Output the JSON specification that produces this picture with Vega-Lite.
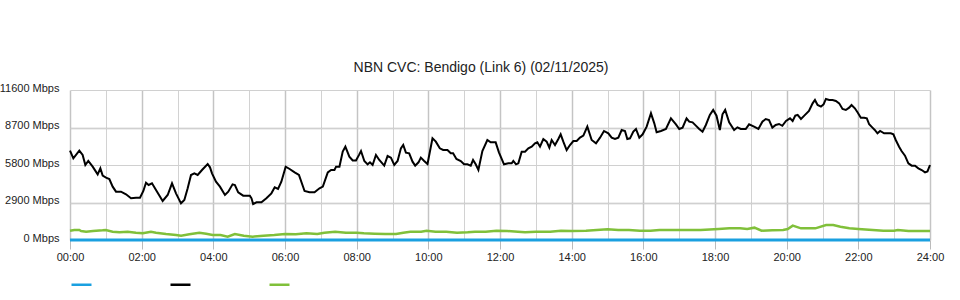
{
  "$schema": "https://vega.github.io/schema/vega-lite/v6.json",
  "autosize": {"type": "none"},
  "padding": {"left": 70, "top": 90, "right": 30, "bottom": 60},
  "width": 860,
  "height": 150,
  "background": "white",
  "config": {
    "view": {"stroke": null},
    "font": "Liberation Sans"
  },
  "title": {
    "text": "NBN CVC: Bendigo (Link 6) (02/11/2025)",
    "fontSize": 14,
    "fontWeight": "normal",
    "color": "#222",
    "anchor": "middle",
    "dx": -19,
    "offset": 7
  },
  "datasets": {
    "blue": [
      {"h": 0, "v": 0}, {"h": 2, "v": 0}, {"h": 4, "v": 0}, {"h": 6, "v": 0}, {"h": 8, "v": 0}, {"h": 10, "v": 0}, {"h": 12, "v": 0},
      {"h": 14, "v": 0}, {"h": 16, "v": 0}, {"h": 18, "v": 0}, {"h": 20, "v": 0}, {"h": 22, "v": 0}, {"h": 24, "v": 0}
    ],
    "black": [
      {"h": 0, "v": 6909}, {"h": 0.093, "v": 6316}, {"h": 0.26, "v": 6909}, {"h": 0.353, "v": 6574}, {"h": 0.428, "v": 5801},
      {"h": 0.51, "v": 6110}, {"h": 0.633, "v": 5671}, {"h": 0.772, "v": 5079}, {"h": 0.847, "v": 5543}, {"h": 0.912, "v": 4976},
      {"h": 1.005, "v": 4821}, {"h": 1.098, "v": 4718}, {"h": 1.191, "v": 4125}, {"h": 1.284, "v": 3738}, {"h": 1.423, "v": 3738},
      {"h": 1.563, "v": 3532}, {"h": 1.702, "v": 3223}, {"h": 1.842, "v": 3274}, {"h": 1.953, "v": 3274}, {"h": 2.047, "v": 3790},
      {"h": 2.121, "v": 4434}, {"h": 2.195, "v": 4254}, {"h": 2.288, "v": 4382}, {"h": 2.4, "v": 3867}, {"h": 2.586, "v": 3016},
      {"h": 2.726, "v": 3480}, {"h": 2.847, "v": 4382}, {"h": 2.958, "v": 3609}, {"h": 3.098, "v": 2836}, {"h": 3.191, "v": 3093},
      {"h": 3.284, "v": 3996}, {"h": 3.377, "v": 5027}, {"h": 3.47, "v": 5156}, {"h": 3.563, "v": 5027}, {"h": 3.684, "v": 5414},
      {"h": 3.842, "v": 5878}, {"h": 3.907, "v": 5620}, {"h": 3.963, "v": 5156}, {"h": 4.074, "v": 4511}, {"h": 4.185, "v": 4125},
      {"h": 4.324, "v": 3480}, {"h": 4.417, "v": 3738}, {"h": 4.537, "v": 4305}, {"h": 4.602, "v": 4254}, {"h": 4.694, "v": 3687},
      {"h": 4.833, "v": 3429}, {"h": 5.019, "v": 3429}, {"h": 5.065, "v": 3223}, {"h": 5.111, "v": 2784}, {"h": 5.204, "v": 2913},
      {"h": 5.343, "v": 2913}, {"h": 5.481, "v": 3223}, {"h": 5.62, "v": 3609}, {"h": 5.713, "v": 4073}, {"h": 5.806, "v": 3944},
      {"h": 5.898, "v": 4511}, {"h": 6.019, "v": 5671}, {"h": 6.13, "v": 5491}, {"h": 6.269, "v": 5233}, {"h": 6.389, "v": 5027},
      {"h": 6.546, "v": 3790}, {"h": 6.685, "v": 3687}, {"h": 6.824, "v": 3687}, {"h": 6.963, "v": 3996}, {"h": 7.056, "v": 4125},
      {"h": 7.194, "v": 5233}, {"h": 7.287, "v": 5414}, {"h": 7.38, "v": 5414}, {"h": 7.426, "v": 5671}, {"h": 7.519, "v": 5671},
      {"h": 7.611, "v": 6832}, {"h": 7.685, "v": 7218}, {"h": 7.796, "v": 6445}, {"h": 7.889, "v": 6150}, {"h": 7.981, "v": 6150},
      {"h": 8.07, "v": 6600}, {"h": 8.121, "v": 6883}, {"h": 8.214, "v": 6110}, {"h": 8.306, "v": 5852}, {"h": 8.371, "v": 6007},
      {"h": 8.445, "v": 5801}, {"h": 8.538, "v": 6574}, {"h": 8.631, "v": 6187}, {"h": 8.77, "v": 5749}, {"h": 8.863, "v": 6497},
      {"h": 8.956, "v": 6368}, {"h": 9.049, "v": 5801}, {"h": 9.142, "v": 6110}, {"h": 9.234, "v": 7089}, {"h": 9.299, "v": 7347},
      {"h": 9.374, "v": 6754}, {"h": 9.466, "v": 6703}, {"h": 9.559, "v": 6058}, {"h": 9.633, "v": 5749}, {"h": 9.726, "v": 6007},
      {"h": 9.791, "v": 6368}, {"h": 9.884, "v": 6110}, {"h": 9.977, "v": 5878}, {"h": 10.116, "v": 7863}, {"h": 10.209, "v": 7605},
      {"h": 10.32, "v": 7089}, {"h": 10.413, "v": 6960}, {"h": 10.534, "v": 6960}, {"h": 10.626, "v": 6703}, {"h": 10.691, "v": 6703},
      {"h": 10.784, "v": 6265}, {"h": 10.905, "v": 6110}, {"h": 10.998, "v": 5852}, {"h": 11.09, "v": 5852}, {"h": 11.183, "v": 5749},
      {"h": 11.248, "v": 6187}, {"h": 11.322, "v": 5852}, {"h": 11.397, "v": 5414}, {"h": 11.508, "v": 6883}, {"h": 11.647, "v": 7734},
      {"h": 11.74, "v": 7553}, {"h": 11.879, "v": 7553}, {"h": 11.97, "v": 6780}, {"h": 12.112, "v": 5852}, {"h": 12.233, "v": 5930},
      {"h": 12.326, "v": 5930}, {"h": 12.372, "v": 6110}, {"h": 12.447, "v": 5852}, {"h": 12.512, "v": 5930}, {"h": 12.605, "v": 6832},
      {"h": 12.698, "v": 6832}, {"h": 12.791, "v": 7089}, {"h": 12.884, "v": 7218}, {"h": 12.977, "v": 7476}, {"h": 13.042, "v": 7553},
      {"h": 13.116, "v": 7218}, {"h": 13.209, "v": 7811}, {"h": 13.302, "v": 7605}, {"h": 13.377, "v": 7141}, {"h": 13.442, "v": 7734},
      {"h": 13.535, "v": 7347}, {"h": 13.628, "v": 7811}, {"h": 13.693, "v": 8172}, {"h": 13.767, "v": 7605}, {"h": 13.86, "v": 6960},
      {"h": 13.953, "v": 7347}, {"h": 14.047, "v": 7656}, {"h": 14.14, "v": 7656}, {"h": 14.233, "v": 7914}, {"h": 14.326, "v": 8069},
      {"h": 14.437, "v": 8765}, {"h": 14.558, "v": 7734}, {"h": 14.679, "v": 7476}, {"h": 14.791, "v": 7914}, {"h": 14.902, "v": 8430},
      {"h": 15.023, "v": 8250}, {"h": 15.116, "v": 7914}, {"h": 15.209, "v": 7811}, {"h": 15.302, "v": 7914}, {"h": 15.395, "v": 8507},
      {"h": 15.488, "v": 8430}, {"h": 15.553, "v": 7811}, {"h": 15.628, "v": 7863}, {"h": 15.721, "v": 8378}, {"h": 15.795, "v": 8585},
      {"h": 15.888, "v": 7914}, {"h": 15.981, "v": 8172}, {"h": 16.093, "v": 8765}, {"h": 16.213, "v": 9797}, {"h": 16.306, "v": 9023},
      {"h": 16.371, "v": 8327}, {"h": 16.492, "v": 8430}, {"h": 16.631, "v": 8585}, {"h": 16.77, "v": 9410}, {"h": 16.91, "v": 8946},
      {"h": 17.002, "v": 8585}, {"h": 17.095, "v": 8688}, {"h": 17.206, "v": 9410}, {"h": 17.281, "v": 9152}, {"h": 17.374, "v": 9100},
      {"h": 17.466, "v": 8842}, {"h": 17.559, "v": 8585}, {"h": 17.652, "v": 8378}, {"h": 17.745, "v": 8894}, {"h": 17.856, "v": 9668},
      {"h": 17.949, "v": 10055}, {"h": 18.042, "v": 9616}, {"h": 18.135, "v": 8507}, {"h": 18.209, "v": 9719}, {"h": 18.284, "v": 10055},
      {"h": 18.395, "v": 9100}, {"h": 18.534, "v": 8507}, {"h": 18.626, "v": 8714}, {"h": 18.719, "v": 8585}, {"h": 18.858, "v": 8585},
      {"h": 18.951, "v": 8946}, {"h": 19.09, "v": 8765}, {"h": 19.211, "v": 8585}, {"h": 19.322, "v": 9152}, {"h": 19.415, "v": 9358},
      {"h": 19.508, "v": 9281}, {"h": 19.601, "v": 8688}, {"h": 19.694, "v": 8894}, {"h": 19.787, "v": 8971}, {"h": 19.879, "v": 8830},
      {"h": 19.981, "v": 9204}, {"h": 20.093, "v": 9410}, {"h": 20.167, "v": 9204}, {"h": 20.241, "v": 9616}, {"h": 20.306, "v": 9668},
      {"h": 20.399, "v": 9358}, {"h": 20.492, "v": 9616}, {"h": 20.622, "v": 9977}, {"h": 20.724, "v": 10570}, {"h": 20.789, "v": 10828},
      {"h": 20.863, "v": 10442}, {"h": 20.956, "v": 10313}, {"h": 21.03, "v": 10493}, {"h": 21.095, "v": 10906}, {"h": 21.188, "v": 10828},
      {"h": 21.281, "v": 10828}, {"h": 21.374, "v": 10750}, {"h": 21.466, "v": 10570}, {"h": 21.559, "v": 10132}, {"h": 21.651, "v": 10055},
      {"h": 21.744, "v": 10235}, {"h": 21.81, "v": 10442}, {"h": 21.903, "v": 10184}, {"h": 21.977, "v": 9874}, {"h": 22.07, "v": 9461},
      {"h": 22.162, "v": 9461}, {"h": 22.237, "v": 9410}, {"h": 22.302, "v": 8946}, {"h": 22.394, "v": 8688}, {"h": 22.459, "v": 8507},
      {"h": 22.534, "v": 8250}, {"h": 22.608, "v": 8430}, {"h": 22.719, "v": 8250}, {"h": 22.905, "v": 8250}, {"h": 22.979, "v": 8172},
      {"h": 23.044, "v": 7734}, {"h": 23.137, "v": 7218}, {"h": 23.206, "v": 6883}, {"h": 23.302, "v": 6523}, {"h": 23.396, "v": 5930},
      {"h": 23.489, "v": 5749}, {"h": 23.582, "v": 5749}, {"h": 23.675, "v": 5543}, {"h": 23.768, "v": 5414}, {"h": 23.861, "v": 5233},
      {"h": 23.93, "v": 5300}, {"h": 24.0, "v": 5800}
    ],
    "green": [
      {"h": 0, "v": 722}, {"h": 0.12, "v": 773}, {"h": 0.26, "v": 773}, {"h": 0.31, "v": 696}, {"h": 0.45, "v": 645},
      {"h": 0.64, "v": 696}, {"h": 0.91, "v": 747}, {"h": 1.0, "v": 773}, {"h": 1.19, "v": 645}, {"h": 1.38, "v": 593},
      {"h": 1.61, "v": 645}, {"h": 1.84, "v": 567}, {"h": 2.03, "v": 516}, {"h": 2.26, "v": 645}, {"h": 2.4, "v": 567},
      {"h": 2.68, "v": 464}, {"h": 2.96, "v": 387}, {"h": 3.1, "v": 335}, {"h": 3.33, "v": 438}, {"h": 3.61, "v": 567},
      {"h": 3.8, "v": 490}, {"h": 3.98, "v": 387}, {"h": 4.2, "v": 387}, {"h": 4.4, "v": 258}, {"h": 4.6, "v": 464},
      {"h": 4.85, "v": 335}, {"h": 5.1, "v": 258}, {"h": 5.4, "v": 335}, {"h": 5.7, "v": 387}, {"h": 6.0, "v": 464},
      {"h": 6.3, "v": 438}, {"h": 6.6, "v": 516}, {"h": 6.9, "v": 464}, {"h": 7.1, "v": 567}, {"h": 7.4, "v": 645},
      {"h": 7.7, "v": 567}, {"h": 8.0, "v": 567}, {"h": 8.2, "v": 516}, {"h": 8.5, "v": 490}, {"h": 8.8, "v": 464},
      {"h": 9.1, "v": 464}, {"h": 9.3, "v": 567}, {"h": 9.5, "v": 645}, {"h": 9.8, "v": 645}, {"h": 9.95, "v": 722},
      {"h": 10.2, "v": 645}, {"h": 10.5, "v": 645}, {"h": 10.8, "v": 567}, {"h": 11.1, "v": 593}, {"h": 11.3, "v": 645},
      {"h": 11.6, "v": 645}, {"h": 11.9, "v": 722}, {"h": 12.2, "v": 696}, {"h": 12.5, "v": 645}, {"h": 12.7, "v": 593},
      {"h": 13.0, "v": 645}, {"h": 13.4, "v": 645}, {"h": 13.7, "v": 722}, {"h": 14.0, "v": 696}, {"h": 14.4, "v": 722},
      {"h": 14.7, "v": 773}, {"h": 15.0, "v": 825}, {"h": 15.3, "v": 773}, {"h": 15.6, "v": 773}, {"h": 15.9, "v": 722},
      {"h": 16.2, "v": 722}, {"h": 16.45, "v": 773}, {"h": 16.8, "v": 773}, {"h": 17.2, "v": 773}, {"h": 17.6, "v": 773},
      {"h": 18.1, "v": 850}, {"h": 18.4, "v": 902}, {"h": 18.7, "v": 902}, {"h": 18.9, "v": 850}, {"h": 19.1, "v": 954},
      {"h": 19.3, "v": 722}, {"h": 19.6, "v": 747}, {"h": 19.9, "v": 773}, {"h": 20.03, "v": 850}, {"h": 20.17, "v": 1108},
      {"h": 20.4, "v": 902}, {"h": 20.8, "v": 902}, {"h": 21.1, "v": 1160}, {"h": 21.3, "v": 1160}, {"h": 21.5, "v": 1031},
      {"h": 21.75, "v": 902}, {"h": 22.0, "v": 850}, {"h": 22.4, "v": 773}, {"h": 22.7, "v": 722}, {"h": 23.0, "v": 722},
      {"h": 23.1, "v": 773}, {"h": 23.4, "v": 696}, {"h": 23.7, "v": 696}, {"h": 24.0, "v": 696}
    ]
  },
  "resolve": {"axis": {"x": "independent", "y": "independent"}},
  "layer": [
    {
      "data": {"name": "blue"},
      "transform": [{"calculate": "'Series 1'", "as": "series"}],
      "mark": {"type": "line", "strokeWidth": 3},
      "encoding": {
        "x": {"field": "h", "type": "quantitative", "scale": {"domain": [0, 24], "nice": false, "zero": false},
          "axis": {"orient": "bottom", "values": [1, 3, 5, 7, 9, 11, 13, 15, 17, 19, 21, 23], "labels": false, "ticks": false, "domain": false, "title": null, "grid": true, "gridColor": "#d2d2d2", "gridWidth": 1}},
        "y": {"field": "v", "type": "quantitative", "scale": {"domain": [0, 11600], "nice": false},
          "axis": {"orient": "left", "values": [2900, 8700], "labels": false, "ticks": false, "domain": false, "title": null, "grid": true, "gridColor": "#bbbbbb", "gridWidth": 1.5}},
        "color": {"field": "series", "type": "nominal",
          "scale": {"domain": ["Series 1", "Series 2", "Series 3"], "range": ["#1aa0e0", "#000000", "#80c03a"]},
          "legend": {"orient": "none", "legendX": 0, "legendY": 183, "direction": "horizontal", "title": null,
            "symbolType": "stroke", "symbolSize": 400, "symbolStrokeWidth": 2.5, "labelExpr": "''", "labelOffset": 0, "columnPadding": 68}}
      }
    },
    {
      "layer": [
        {
          "data": {"name": "green"},
          "transform": [{"calculate": "'Series 3'", "as": "series"}],
          "mark": {"type": "line", "strokeWidth": 2.5},
          "encoding": {
            "x": {"field": "h", "type": "quantitative"},
            "y": {"field": "v", "type": "quantitative"},
            "color": {"field": "series", "type": "nominal"}
          }
        },
        {
          "data": {"name": "black"},
          "transform": [{"calculate": "'Series 2'", "as": "series"}],
          "mark": {"type": "line", "strokeWidth": 2},
          "encoding": {
            "x": {"field": "h", "type": "quantitative"},
            "y": {"field": "v", "type": "quantitative"},
            "color": {"field": "series", "type": "nominal"}
          }
        }
      ],
      "encoding": {
        "x": {"field": "h", "type": "quantitative",
          "axis": {"orient": "bottom", "values": [0, 2, 4, 6, 8, 10, 12, 14, 16, 18, 20, 22, 24], "labelExpr": "(datum.value < 10 ? '0' : '') + datum.value + ':00'",
            "title": null, "domain": false, "grid": true, "gridColor": "#c4c4c4", "gridWidth": 1.5, "tickColor": "#bbbbbb", "tickSize": 9,
            "labelFontSize": 11, "labelColor": "#222", "labelPadding": 2, "labelFlush": false, "labelOverlap": false}},
        "y": {"field": "v", "type": "quantitative",
          "axis": {"orient": "left", "values": [0, 2900, 5800, 8700, 11600], "labelExpr": "datum.value + ' Mbps'", "title": null, "domain": false, "ticks": false,
            "grid": true, "gridColor": "#d0d0d0", "gridWidth": 1, "labelFontSize": 11, "labelColor": "#222", "labelPadding": 11, "labelOffset": -2}}
      }
    }
  ]
}
